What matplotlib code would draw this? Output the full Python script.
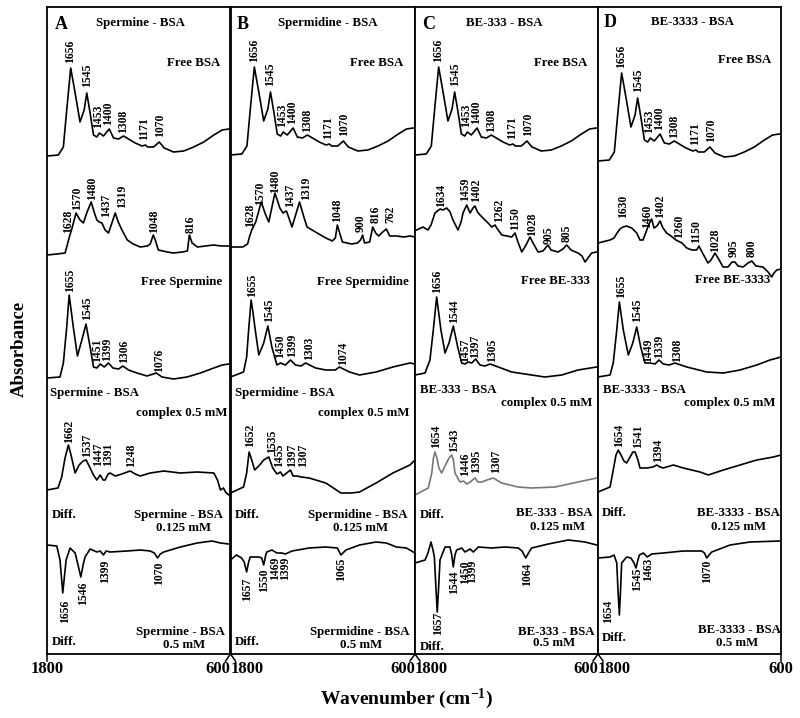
import matplotlib.pyplot as plt
import numpy as np

plt.rcParams['font.family'] = ['Liberation Serif', 'DejaVu Serif']
plt.rcParams['font.weight'] = 'bold'
plt.rcParams['mathtext.fontset'] = 'custom'
plt.rcParams['mathtext.rm'] = 'Liberation Serif:bold'
plt.rcParams['mathtext.it'] = 'Liberation Serif:bold'
plt.rcParams['mathtext.bf'] = 'Liberation Serif:bold'

ligands = ['Spermine', 'Spermidine', 'BE-333', 'BE-3333']
letters = ['A', 'B', 'C', 'D']
tick_labels = ['1800', '600']

# ---- free BSA (same spectrum in every panel) ----
bsa_wn = [1800, 1726, 1693, 1671, 1645, 1616, 1584, 1557, 1540, 1518, 1496, 1474, 1457, 1431,
          1393, 1365, 1332, 1300, 1267, 1223, 1179, 1157, 1142, 1103, 1066, 1033, 972, 906,
          841, 775, 709, 655, 611, 600]
bsa_abs = [0, 1, 9, 46, 88, 63, 34, 46, 63, 43, 21, 19, 23, 20, 27, 18, 17, 20, 17, 13, 10, 11,
           9, 9, 14, 8, 4, 5, 9, 14, 21, 26, 27, 27]
bsa_peaks = [('1656', 1649, 63), ('1545', 1540, 87), ('1453', 1464, 128), ('1400', 1398, 125),
             ('1308', 1300, 133), ('1171', 1164, 140), ('1070', 1059, 137)]

# ---- free ligands ----
a_free_wn = [1800, 1734, 1682, 1669, 1654, 1636, 1610, 1584, 1562, 1538, 1511, 1492, 1474, 1459,
             1441, 1420, 1398, 1380, 1354, 1334, 1310, 1275, 1236, 1190, 1144, 1125, 1105, 1092,
             1072, 1013, 974, 915, 882, 869, 851, 816, 764, 712, 659, 613, 600]
a_free_abs = [0, 1, 2, 9, 18, 27, 42, 35, 32, 43, 53, 43, 35, 33, 32, 25, 22, 30, 42, 33, 25, 15,
              11, 8, 9, 11, 20, 15, 5, 3, 2, 3, 4, 20, 12, 8, 9, 10, 9, 9, 9]
b_free_wn = [1800, 1721, 1689, 1675, 1662, 1636, 1600, 1571, 1551, 1511, 1479, 1459, 1436, 1400,
             1351, 1321, 1302, 1236, 1180, 1138, 1118, 1105, 1092, 1072, 1013, 974, 954, 941, 928,
             895, 875, 856, 836, 810, 787, 764, 718, 672, 633, 600]
b_free_abs = [0, 0, 3, 11, 17, 25, 45, 32, 25, 54, 39, 34, 36, 20, 45, 29, 20, 14, 9, 6, 9, 22,
              15, 5, 3, 4, 7, 12, 4, 5, 20, 14, 11, 15, 18, 11, 11, 10, 11, 10]
c_free_wn = [1800, 1789, 1748, 1715, 1695, 1669, 1636, 1616, 1592, 1570, 1551, 1518, 1498, 1485,
             1461, 1439, 1420, 1407, 1390, 1374, 1341, 1321, 1297, 1275, 1264, 1231, 1197, 1166,
             1144, 1125, 1100, 1072, 1046, 1026, 993, 961, 928, 908, 862, 830, 805, 777, 731, 705,
             685, 666, 641, 609, 600]
c_free_abs = [22, 22, 25, 22, 27, 39, 43, 42, 44, 40, 32, 22, 30, 39, 47, 39, 44, 46, 40, 37, 32,
              29, 25, 27, 24, 17, 16, 15, 19, 10, 0, 7, 15, 9, 0, 1, 7, 2, 0, 3, 7, 2, -1, -4,
              -10, -6, -1, 0, 0]
d_free_wn = [1800, 1721, 1695, 1675, 1656, 1636, 1612, 1597, 1579, 1546, 1525, 1505, 1485, 1466,
             1448, 1433, 1413, 1393, 1374, 1350, 1321, 1289, 1249, 1218, 1184, 1153, 1138, 1118,
             1079, 1059, 1033, 1013, 980, 948, 921, 902, 882, 849, 816, 792, 764, 718, 685, 661,
             646, 628, 600]
d_free_abs = [0, 3, 5, 10, 14, 16, 17, 16, 15, 10, 3, 3, 11, 19, 24, 15, 17, 22, 15, 10, 7, 3, 0,
              -5, -7, -7, -3, -9, -20, -17, -10, -15, -24, -24, -19, -19, -23, -24, -20, -18,
              -23, -24, -29, -34, -30, -27, -26]

# ---- complexes 0.5 mM ----
a_cplx_wn = [1800, 1715, 1693, 1671, 1655, 1628, 1601, 1572, 1545, 1518, 1496, 1474, 1452, 1426,
             1398, 1369, 1332, 1304, 1267, 1212, 1146, 1085, 1048, 972, 884, 797, 709, 654, 611, 600]
a_cplx_abs = [1, 2, 16, 52, 84, 52, 23, 39, 55, 32, 12, 11, 15, 12, 16, 11, 10, 13, 9, 6, 3, 6,
              2, 0, 2, 6, 11, 14, 15, 15]
b_cplx_wn = [1800, 1715, 1695, 1682, 1666, 1656, 1639, 1616, 1584, 1557, 1531, 1498, 1475, 1443,
             1410, 1377, 1341, 1312, 1246, 1180, 1118, 1092, 1026, 961, 853, 744, 633, 600]
b_cplx_abs = [0, 5, 20, 47, 77, 67, 47, 22, 34, 51, 30, 12, 14, 12, 17, 12, 11, 14, 9, 7, 7, 10,
              5, 2, 5, 10, 14, 13]
c_cplx_wn = [1800, 1734, 1702, 1680, 1658, 1630, 1603, 1577, 1549, 1520, 1494, 1472, 1451, 1428,
             1402, 1374, 1341, 1308, 1254, 1166, 1079, 948, 838, 731, 609, 600]
c_cplx_abs = [2, 4, 17, 47, 80, 47, 24, 34, 51, 30, 14, 13, 15, 14, 18, 12, 11, 13, 10, 5, 3, 0,
              2, 7, 10, 10]
d_cplx_wn = [1800, 1721, 1700, 1677, 1660, 1634, 1601, 1572, 1546, 1520, 1492, 1459, 1426, 1400,
             1372, 1334, 1295, 1218, 1087, 978, 869, 759, 672, 600]
d_cplx_abs = [0, 2, 14, 47, 75, 47, 22, 34, 50, 30, 14, 14, 13, 17, 13, 12, 14, 10, 5, 4, 7, 12,
              17, 20]

# ---- difference spectra 0.125 mM ----
a_d1_wn = [1800, 1728, 1704, 1682, 1660, 1643, 1616, 1590, 1564, 1544, 1518, 1496, 1474, 1452,
           1433, 1420, 1400, 1387, 1354, 1310, 1275, 1256, 1223, 1190, 1125, 1037, 928, 818, 709,
           685, 666, 646, 633, 611, 600]
a_d1_abs = [0, 2, 13, 32, 45, 35, 17, 25, 29, 30, 22, 15, 10, 15, 10, 10, 16, 17, 14, 16, 18, 19,
            16, 14, 17, 19, 17, 18, 17, 10, 0, 2, -2, -5, -5]
b_d1_wn = [1800, 1715, 1695, 1679, 1662, 1643, 1616, 1584, 1551, 1525, 1498, 1475, 1459, 1443,
           1410, 1393, 1367, 1341, 1289, 1180, 1082, 1013, 961, 853, 744, 633, 600]
b_d1_abs = [0, 6, 20, 41, 33, 23, 27, 33, 36, 25, 19, 21, 17, 19, 23, 17, 17, 16, 15, 10, 0, 0,
            1, 10, 20, 28, 33]
c_d1_wn = [1800, 1713, 1690, 1679, 1669, 1656, 1643, 1625, 1603, 1577, 1559, 1548, 1538, 1505,
           1483, 1459, 1439, 1407, 1387, 1363, 1328, 1287, 1231, 1125, 1035, 882, 731, 609, 600]
c_d1_abs = [0, 7, 22, 37, 43, 37, 27, 22, 29, 37, 40, 35, 22, 13, 14, 11, 13, 17, 13, 13, 15, 17,
            12, 8, 7, 8, 13, 17, 17]
d_d1_wn = [1800, 1721, 1700, 1682, 1667, 1649, 1630, 1612, 1590, 1571, 1557, 1538, 1525, 1481,
           1439, 1415, 1393, 1372, 1306, 1241, 1131, 1077, 978, 869, 759, 650, 600]
d_d1_abs = [0, 5, 22, 37, 42, 37, 31, 29, 35, 40, 40, 32, 24, 24, 25, 27, 25, 24, 27, 24, 20, 17,
            22, 27, 32, 35, 37]

# ---- difference spectra 0.5 mM ----
a_d2_wn = [1800, 1736, 1715, 1697, 1675, 1649, 1616, 1597, 1579, 1564, 1551, 1518, 1474, 1452,
           1431, 1413, 1387, 1277, 1190, 1125, 1098, 1077, 1059, 1037, 928, 818, 720, 666, 611, 600]
a_d2_abs = [0, -1, -15, -48, -15, -3, -8, -20, -32, -20, -12, -4, -7, -6, -10, -6, -7, -6, -5,
            -6, -8, -13, -9, -7, -2, 2, 4, 2, 1, 1]
b_d2_wn = [1800, 1761, 1728, 1711, 1695, 1682, 1672, 1616, 1597, 1584, 1571, 1564, 1531, 1498,
           1466, 1443, 1400, 1289, 1180, 1105, 1082, 1049, 961, 853, 787, 721, 656, 600]
b_d2_abs = [0, 5, 2, -2, -12, -2, 3, 3, 2, -5, 5, 8, 10, 7, 7, 6, 9, 12, 13, 12, 5, 10, 15, 18,
            17, 13, 12, 7]
c_d2_wn = [1800, 1734, 1715, 1695, 1682, 1673, 1662, 1654, 1646, 1636, 1603, 1571, 1559, 1549,
           1538, 1527, 1494, 1472, 1439, 1418, 1385, 1297, 1210, 1123, 1098, 1074, 1052, 1035,
           926, 795, 685, 609, 600]
c_d2_abs = [0, 3, 10, 21, 13, 6, -27, -49, -27, 3, 16, 16, 8, -4, 8, 13, 15, 11, 14, 11, 16, 15,
            16, 15, 12, 5, 11, 15, 19, 23, 21, 18, 18]
d_d2_wn = [1800, 1721, 1695, 1677, 1669, 1660, 1652, 1645, 1612, 1584, 1564, 1551, 1538, 1529,
           1503, 1477, 1448, 1372, 1241, 1120, 1102, 1087, 1072, 1054, 934, 803, 607, 600]
d_d2_abs = [0, 1, 3, -5, -32, -57, -32, -5, 1, 0, -5, -10, -2, 3, 5, 1, 4, 5, 7, 7, 5, 0, 3, 6,
            13, 16, 17, 17]

# ---- peak labels: (text, wavenumber position, row in px from top) ----
free_peaks = [
    [('1628', 1660, 233), ('1570', 1605, 210), ('1480', 1507, 200), ('1437', 1413, 217),
     ('1319', 1310, 208), ('1048', 1103, 233), ('816', 862, 233)],
    [('1628', 1672, 227), ('1570', 1607, 205), ('1480', 1511, 193), ('1437', 1410, 207),
     ('1319', 1308, 200), ('1048', 1105, 222), ('900', 951, 232), ('816', 856, 223),
     ('762', 761, 223)],
    [('1634', 1630, 207), ('1459', 1472, 201), ('1402', 1402, 202), ('1262', 1249, 222),
     ('1150', 1144, 230), ('1028', 1031, 236), ('905', 921, 244), ('805', 805, 242)],
    [('1630', 1634, 218), ('1460', 1477, 228), ('1402', 1393, 218), ('1260', 1267, 238),
     ('1150', 1157, 243), ('1028', 1033, 252), ('905', 908, 257), ('800', 792, 257)],
]
cplx_peaks = [
    [('1655', 1649, 292), ('1545', 1540, 320), ('1451', 1470, 362), ('1399', 1409, 361),
     ('1306', 1295, 363), ('1076', 1064, 372)],
    [('1655', 1661, 297), ('1545', 1552, 322), ('1450', 1475, 358), ('1399', 1399, 357),
     ('1303', 1290, 360), ('1074', 1071, 365)],
    [('1656', 1654, 293), ('1544', 1542, 323), ('1457', 1472, 362), ('1397', 1407, 358),
     ('1305', 1293, 362)],
    [('1655', 1651, 298), ('1545', 1546, 322), ('1449', 1470, 362), ('1339', 1398, 358),
     ('1308', 1284, 362)],
]
d1_peaks = [
    [('1662', 1654, 443), ('1537', 1540, 457), ('1447', 1464, 466), ('1391', 1402, 466),
     ('1248', 1251, 467)],
    [('1652', 1672, 447), ('1535', 1531, 453), ('1455', 1485, 467), ('1397', 1400, 467),
     ('1307', 1328, 467)],
    [('1654', 1664, 448), ('1543', 1542, 452), ('1446', 1472, 476), ('1395', 1402, 473),
     ('1307', 1271, 473)],
    [('1654', 1660, 447), ('1541', 1536, 448), ('1394', 1405, 462)],
]
d2_peaks = [
    [('1656', 1682, 600), ('1546', 1566, 582), ('1399', 1420, 560), ('1070', 1070, 562)],
    [('1657', 1695, 578), ('1550', 1584, 568), ('1469', 1508, 557), ('1399', 1443, 557),
     ('1065', 1082, 558)],
    [('1657', 1647, 612), ('1544', 1542, 570), ('1450', 1474, 560), ('1399', 1426, 560),
     ('1064', 1068, 563)],
    [('1654', 1732, 600), ('1545', 1546, 567), ('1463', 1470, 558), ('1070', 1083, 560)],
]

free_wn = [a_free_wn, b_free_wn, c_free_wn, d_free_wn]
free_abs = [a_free_abs, b_free_abs, c_free_abs, d_free_abs]
cplx_wn = [a_cplx_wn, b_cplx_wn, c_cplx_wn, d_cplx_wn]
cplx_abs = [a_cplx_abs, b_cplx_abs, c_cplx_abs, d_cplx_abs]
d1_wn = [a_d1_wn, b_d1_wn, c_d1_wn, d_d1_wn]
d1_abs = [a_d1_abs, b_d1_abs, c_d1_abs, d_d1_abs]
d2_wn = [a_d2_wn, b_d2_wn, c_d2_wn, d_d2_wn]
d2_abs = [a_d2_abs, b_d2_abs, c_d2_abs, d_d2_abs]

# stacking: baseline row (px from top) of each trace
base_bsa = [156, 155, 155, 161]
base_free = [255, 247, 252, 243]
base_cplx = [379, 377, 377, 377]
base_d1 = [490, 493, 495, 492]
base_d2 = [545, 560, 563, 558]
d1_color = ['black', 'black', '#777777', 'black']

# caption positions (wavenumber, row, ha) per panel
layouts = [
    [(1748, 24, 'left'), (1187, 23, 'center'), (666, 63, 'right'), (653, 282, 'right'),
     (1780, 393, 'left'), (620, 413, 'right'), (1767, 515, 'left'), (653, 515, 'right'),
     (905, 528, 'center'), (1767, 642, 'left'), (639, 632, 'right'), (905, 645, 'center')],
    [(1761, 24, 'left'), (1170, 23, 'center'), (679, 63, 'right'), (639, 282, 'right'),
     (1770, 393, 'left'), (633, 413, 'right'), (1770, 515, 'left'), (646, 515, 'right'),
     (957, 528, 'center'), (1770, 642, 'left'), (639, 632, 'right'), (951, 645, 'center')],
    [(1756, 24, 'left'), (1216, 23, 'center'), (672, 63, 'right'), (653, 281, 'right'),
     (1767, 390, 'left'), (639, 403, 'right'), (1767, 515, 'left'), (633, 513, 'right'),
     (862, 527, 'center'), (1767, 647, 'left'), (626, 632, 'right'), (889, 643, 'center')],
    [(1761, 22, 'left'), (1180, 22, 'center'), (666, 60, 'right'), (672, 280, 'right'),
     (1767, 390, 'left'), (639, 403, 'right'), (1776, 513, 'left'), (607, 513, 'right'),
     (879, 527, 'center'), (1776, 638, 'left'), (600, 630, 'right'), (889, 643, 'center')],
]

edges = [47, 230.5, 415, 598, 781]
top, bot = 7, 654
W, H = 800, 718
lw = 1.2

fig = plt.figure(figsize=(8, 7.18), dpi=100)

for i in range(4):
    x0, x1 = edges[i], edges[i + 1]
    ax = fig.add_axes([x0 / W, 1 - bot / H, (x1 - x0) / W, (bot - top) / H])
    ax.set_xlim(1800, 600)
    ax.set_ylim(bot, top)

    ax.plot(bsa_wn, base_bsa[i] - np.array(bsa_abs), color='black', lw=lw)
    ax.plot(free_wn[i], base_free[i] - np.array(free_abs[i]), color='black', lw=lw)
    ax.plot(cplx_wn[i], base_cplx[i] - np.array(cplx_abs[i]), color='black', lw=lw)
    ax.plot(d1_wn[i], base_d1[i] - np.array(d1_abs[i]), color=d1_color[i], lw=lw)
    ax.plot(d2_wn[i], base_d2[i] - np.array(d2_abs[i]), color='black', lw=lw)

    shift = base_bsa[i] - base_bsa[0]
    for txt, wn, y in bsa_peaks:
        ax.text(wn, y + shift, txt, rotation=90, ha='center', va='bottom', fontsize=8.4)
    for group in (free_peaks[i], cplx_peaks[i], d1_peaks[i]):
        for txt, wn, y in group:
            ax.text(wn, y, txt, rotation=90, ha='center', va='bottom', fontsize=8.4)
    for txt, wn, y in d2_peaks[i]:
        ax.text(wn, y, txt, rotation=90, ha='center', va='top', fontsize=8.4)

    lig = ligands[i]
    captions = [letters[i], f'{lig} - BSA', 'Free BSA', f'Free {lig}', f'{lig} - BSA',
                'complex 0.5 mM', 'Diff.', f'{lig} - BSA', '0.125 mM', 'Diff.',
                f'{lig} - BSA', '0.5 mM']
    for k, (s, (wn, y, ha)) in enumerate(zip(captions, layouts[i])):
        ax.text(wn, y, s, ha=ha, va='center', fontsize=13 if k == 0 else 9.3)

    ax.set_yticks([])
    ax.set_xticks([1800, 600])
    ax.set_xticklabels(tick_labels, fontsize=12)
    ax.tick_params(axis='x', length=0, pad=5)
    labs = ax.get_xticklabels()
    labs[0].set_ha('center' if i == 0 else 'left')
    labs[1].set_ha('center' if i == 3 else 'right')
    for s in ax.spines.values():
        s.set_linewidth(1.3)

    # little corner ticks under the frame
    dx = 5 / (x1 - x0)
    dy = 7 / (bot - top)
    ax.plot([0, 0 if i == 0 else dx], [0, -dy], color='black', lw=1.1,
            transform=ax.transAxes, clip_on=False)
    ax.plot([1, 1 if i == 3 else 1 - dx], [0, -dy], color='black', lw=1.1,
            transform=ax.transAxes, clip_on=False)

fig.text(406 / W, 1 - 699 / H, r'Wavenumber (cm$^{-1}$)', ha='center', va='center', fontsize=14)
fig.text(19 / W, 1 - 349 / H, 'Absorbance', rotation=90, ha='center', va='center', fontsize=13.5)

fig.savefig('out.png', dpi=100)
